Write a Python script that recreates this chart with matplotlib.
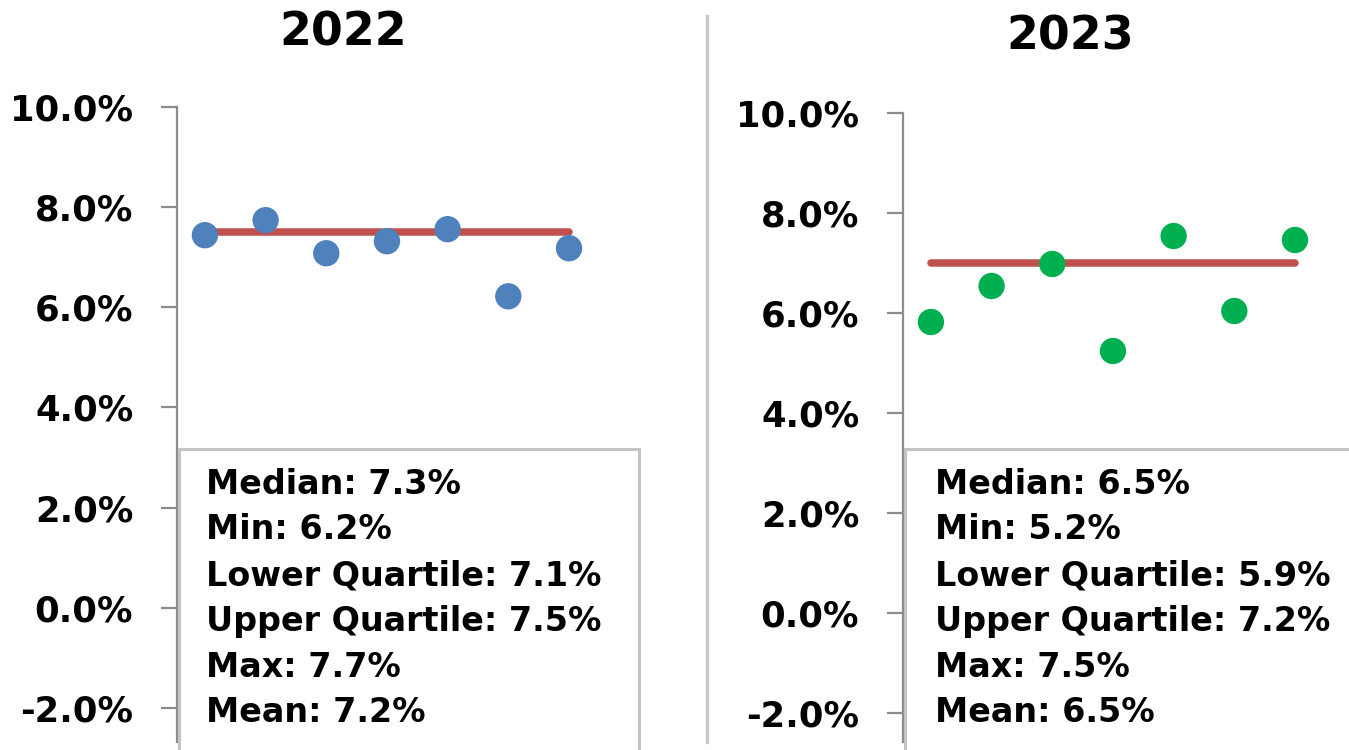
import matplotlib.pyplot as plt
from matplotlib.patches import Rectangle
from matplotlib.lines import Line2D

# Data
years = ['2022', '2023']
rates_2022 = [7.44, 7.74, 7.08, 7.32, 7.56, 6.22, 7.18]
rates_2023 = [5.82, 6.54, 6.98, 5.24, 7.54, 6.04, 7.46]
ref_lines = [7.5, 7.0]
y_ticks = [-2, 0, 2, 4, 6, 8, 10]

stat_names = ['Median', 'Min', 'Lower Quartile', 'Upper Quartile', 'Max', 'Mean']
stats_2022 = [7.3, 6.2, 7.1, 7.5, 7.7, 7.2]
stats_2023 = [6.5, 5.2, 5.9, 7.2, 7.5, 6.5]

W, H = 1349, 750
fig = plt.figure(figsize=(W / 100, H / 100), dpi=100)
plt.rcParams['font.family'] = ['DejaVu Sans']


def px_rect(left, top, right, bottom):
    # pixel box (from top-left) -> figure fraction [l, b, w, h]
    return [left / W, 1 - bottom / H, (right - left) / W, (bottom - top) / H]


panels = [
    # (rates, colour, axes box, ylim bottom, xlim right, title x, title y, box, text x)
    (rates_2022, '#4F81BD', px_rect(177, 107, 640, 742), -2.68, 8.17, 343, 33, (179, 449, 639), 206, stats_2022),
    (rates_2023, '#00B050', px_rect(903, 113, 1349, 742), -2.58, 7.89, 1070, 37, (905, 449, 1365), 935, stats_2023),
]

grey = '#8c8c8c'
for i, (rates, col, box, ybot, xr, tx, ty, sbox, textx, stats) in enumerate(panels):
    ax = fig.add_axes(box)
    xs = list(range(1, len(rates) + 1))
    ax.plot([xs[0], xs[-1]], [ref_lines[i]] * 2, color='#C0504D', lw=5.4,
            solid_capstyle='round', zorder=2)
    ax.scatter(xs, rates, s=360, color=col, edgecolors='none', zorder=3)

    ax.set_ylim(ybot, 10)
    ax.set_xlim(0.54, xr)
    ax.set_yticks(y_ticks)
    ax.set_yticklabels([f'{v:.1f}%' for v in y_ticks], fontsize=25.5, fontweight='bold')
    ax.set_xticks([])
    for s in ['top', 'right', 'bottom']:
        ax.spines[s].set_visible(False)
    ax.spines['left'].set_color(grey)
    ax.spines['left'].set_linewidth(1.6)
    ax.tick_params(axis='y', direction='out', length=11.5, width=1.6, color=grey, pad=20)
    ax.patch.set_alpha(0)

    fig.text(tx / W, 1 - ty / H, years[i], ha='center', va='center',
             fontsize=33, fontweight='bold')

    # stats box
    bl, bt, br = sbox
    fig.patches.append(Rectangle((bl / W, -0.05), (br - bl) / W, (1 - bt / H) + 0.05,
                                 transform=fig.transFigure, facecolor='white',
                                 edgecolor='#c4c4c4', lw=2.2, zorder=1))
    for j, (name, val) in enumerate(zip(stat_names, stats)):
        yy = 484 + j * 45.8
        fig.text(textx / W, 1 - yy / H, f'{name}: {val:.1f}%', ha='left', va='center',
                 fontsize=24, fontweight='bold', zorder=5)

# separator between the two panels
fig.add_artist(Line2D([707 / W, 707 / W], [1 - 16 / H, 1 - 742 / H], color='#c8c8c8', lw=2.4))

plt.savefig('out.png', dpi=100)
plt.close()
